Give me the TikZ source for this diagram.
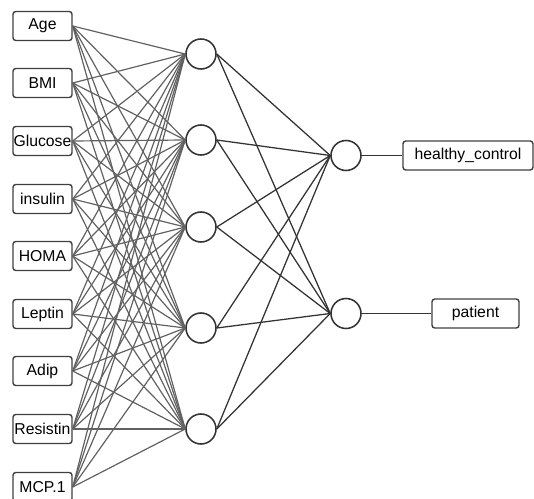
\documentclass[tikz,border=0pt]{standalone}
\usepackage{fontspec}
\setmainfont{Liberation Sans}
\begin{document}
\begin{tikzpicture}[x=0.025cm, y=-0.025cm,
        font=\fontsize{11.2}{13}\selectfont,
        inbox/.style={rectangle, rounded corners=2pt, draw=black!75, line width=1pt, inner sep=0pt, minimum width=1.475cm, minimum height=0.725cm},
        neuron/.style={circle, draw=black!80, line width=1.1pt, inner sep=0pt, minimum size=0.75cm},
        inedge/.style={draw=black!62, line width=0.85pt},
        outedge/.style={draw=black!80, line width=0.9pt}]
        \useasboundingbox (0,0) rectangle (534,499);
        % Define input nodes
        \node[inbox] (age) at (42.5, 26) {Age};
        \node[inbox] (bmi) at (42.5, 83) {BMI};
        \node[inbox] (glucose) at (42.5, 141) {Glucose};
        \node[inbox] (insulin) at (42.5, 199) {insulin};
        \node[inbox] (homa) at (42.5, 256) {HOMA};
        \node[inbox] (leptin) at (42.5, 314) {Leptin};
        \node[inbox] (adip) at (42.5, 371) {Adip};
        \node[inbox] (resistin) at (42.5, 429) {Resistin};
        \node[inbox] (mcp) at (42.5, 487) {MCP.1};
        
        % Define hidden nodes
        \node[neuron] (h1) at (201, 54) {};
        \node[neuron] (h2) at (201, 140) {};
        \node[neuron] (h3) at (201, 227) {};
        \node[neuron] (h4) at (201, 328) {};
        \node[neuron] (h5) at (201, 429) {};
        
        % Define output nodes
        \node[neuron] (o1) at (346, 155.5) {};
        \node[neuron] (o2) at (346, 313.5) {};
        \node[inbox, minimum width=3.25cm] (healthy) at (468, 155.5) {healthy\_control};
        \node[inbox, minimum width=2.175cm] (patient) at (475.5, 313.5) {patient};
        
        % Draw connections
        \foreach \i in {age, bmi, glucose, insulin, homa, leptin, adip, resistin, mcp}
            \foreach \h in {h1, h2, h3, h4, h5}
                \draw[inedge] (\i.east) -- (\h.west);
        \foreach \h in {h1, h2, h3, h4, h5}
            \foreach \o in {o1, o2}
                \draw[outedge] (\h.east) -- (\o.west);
        \draw[outedge] (o1) -- (healthy);
        \draw[outedge] (o2) -- (patient);
    \end{tikzpicture}
\end{document}
